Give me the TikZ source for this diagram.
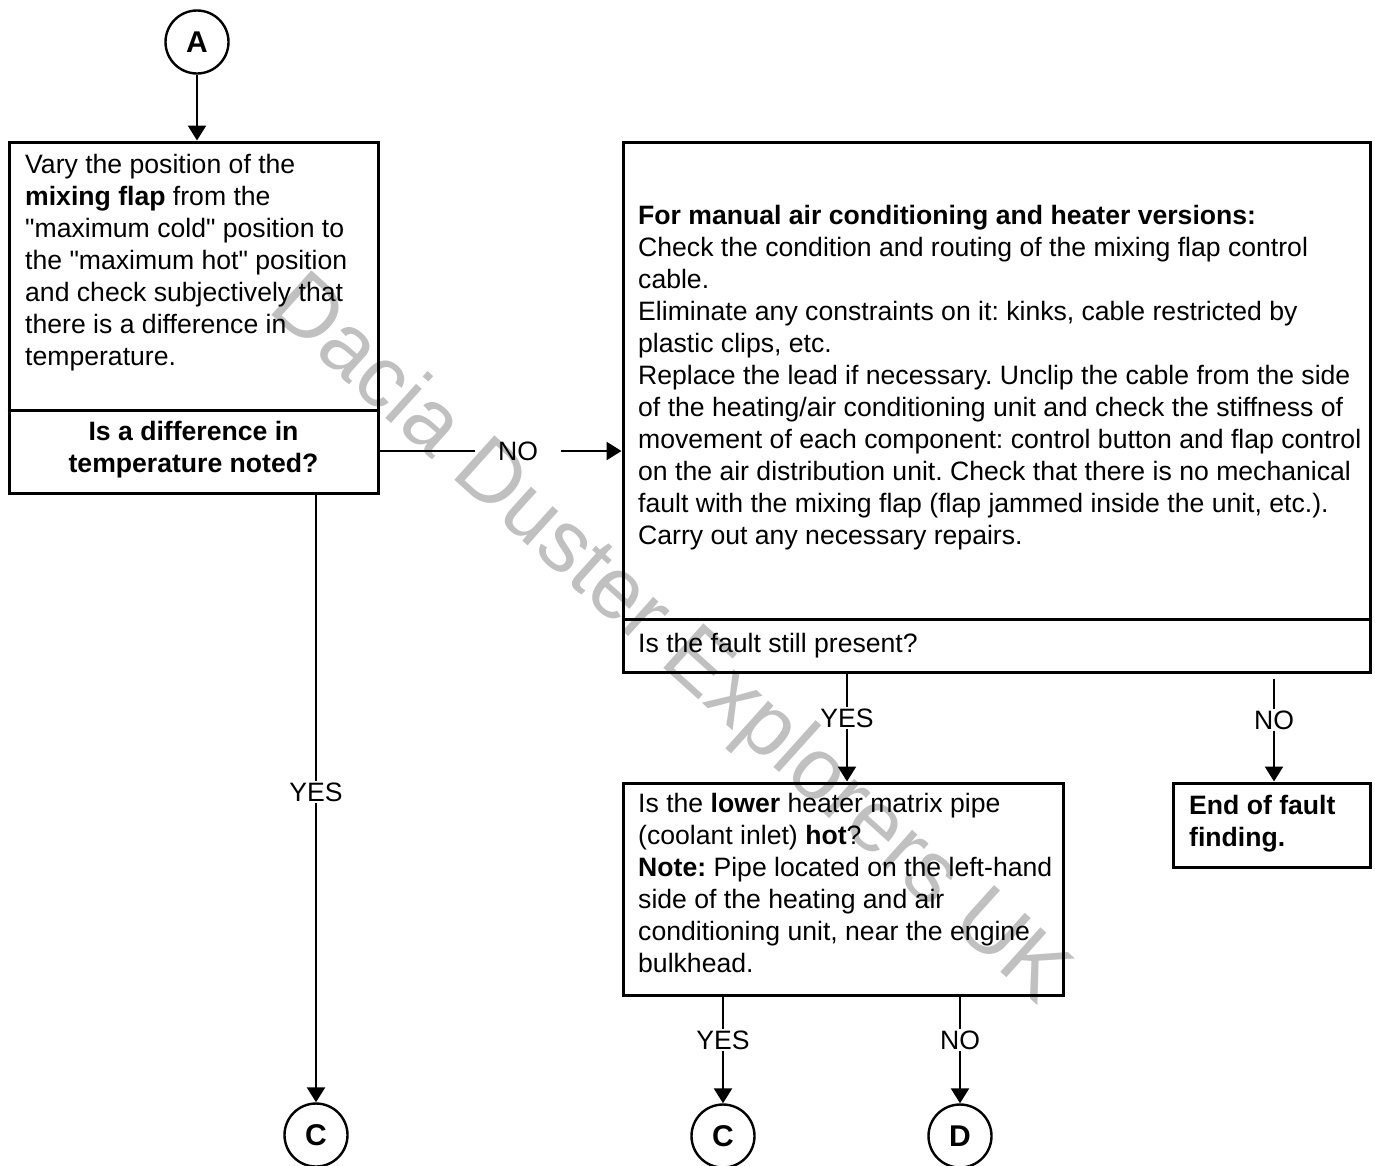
\documentclass[tikz,border=0pt]{standalone}
\usepackage{fontspec}
\setmainfont{Liberation Sans}
\usetikzlibrary{arrows.meta}
\definecolor{wm}{RGB}{192,192,192}
\frenchspacing
\newcommand{\dq}{\textquotedbl}
\begin{document}
\begin{tikzpicture}[x=1pt,y=-1pt,
  txt/.style={font=\fontsize{26.6}{32}\selectfont\frenchspacing, inner sep=0pt, align=left, anchor=north west},
  box/.style={draw, line width=3pt, inner sep=0pt},
  divider/.style={line width=3pt},
  circ/.style={draw, circle, line width=2.4pt, minimum size=63pt, inner sep=0pt, font=\fontsize{30}{32}\selectfont\bfseries},
  lab/.style={font=\fontsize{26.6}{32}\selectfont, inner sep=1pt},
  conn/.style={line width=2.5pt},
  arr/.style={conn, -{Triangle[length=15pt,width=18pt]}},
]
\useasboundingbox (0,0) rectangle (1375,1165);

% watermark (behind everything)
\node[rotate=-42, text=wm, font=\fontsize{87}{87}\selectfont, inner sep=0pt] (wmark) at (668,642) {Dacia Duster Explorers UK};

% boxes
\node[box, minimum width=369pt, minimum height=351pt] (b1) at (193.5,317.5) {};
\node[box, minimum width=747pt, minimum height=530pt] (b2) at (996.5,407) {};
\node[box, minimum width=440pt, minimum height=212pt] (b3) at (843,889) {};
\node[box, minimum width=197pt, minimum height=84pt] (b4) at (1271.5,825) {};

\draw[divider] (b1.west |- 0,410) -- (b1.east |- 0,410);
\draw[divider] (b2.west |- 0,619) -- (b2.east |- 0,619);

% circles
\node[circ] (A) at (197,42) {A};
\node[circ] (C1) at (316,1135) {C};
\node[circ] (C2) at (723,1136) {C};
\node[circ] (D) at (960,1136) {D};

% texts
\node[txt] (t1) at (25,154.5) {Vary the position of the\\
\textbf{mixing flap} from the\\
\dq maximum cold\dq{} position to\\
the \dq maximum hot\dq{} position\\
and check subjectively that\\
there is a difference in\\
temperature.};
\node[txt, anchor=center, align=center, font=\fontsize{26.6}{32}\selectfont\bfseries] (q1) at (193.5,450) {Is a difference in\\ temperature noted?};

\node[txt] (t2) at (638,205.5) {\textbf{For manual air conditioning and heater versions:}\\
Check the condition and routing of the mixing flap control\\
cable.\\
Eliminate any constraints on it: kinks, cable restricted by\\
plastic clips, etc.\\
Replace the lead if necessary. Unclip the cable from the side\\
of the heating/air conditioning unit and check the stiffness of\\
movement of each component: control button and flap control\\
on the air distribution unit. Check that there is no mechanical\\
fault with the mixing flap (flap jammed inside the unit, etc.).\\
Carry out any necessary repairs.};
\node[txt] (q2) at (638,633.5) {Is the fault still present?};

\node[txt] (t3) at (638,793.5) {Is the \textbf{lower} heater matrix pipe\\
(coolant inlet) \textbf{hot}?\\
\textbf{Note:} Pipe located on the left-hand\\
side of the heating and air\\
conditioning unit, near the engine\\
bulkhead.};
\node[txt, font=\fontsize{26.6}{32}\selectfont\bfseries] (t4) at (1189,795.5) {End of fault\\ finding.};

% labels
\node[lab] (yes1) at (316,792) {YES};
\node[lab, inner xsep=23pt] (no1) at (518,451) {NO};
\node[lab] (yes2) at (847,718) {YES};
\node[lab] (no2) at (1274,720) {NO};
\node[lab] (yes3) at (723,1040) {YES};
\node[lab] (no3) at (960,1040) {NO};

% connectors
\draw[arr] (A) -- (A |- b1.north);
\draw[conn] (b1.south -| yes1) -- (yes1);
\draw[arr] (yes1) -- (C1);
\draw[conn] (b1.east |- no1) -- (no1);
\draw[arr] (no1) -- (b2.west |- no1);
\draw[conn] (b2.south -| yes2) -- (yes2);
\draw[arr] (yes2) -- (b3.north -| yes2);
\draw[conn, shorten <=5pt] (b2.south -| no2) -- (no2);
\draw[arr] (no2) -- (b4.north -| no2);
\draw[conn] (b3.south -| yes3) -- (yes3);
\draw[arr] (yes3) -- (C2);
\draw[conn] (b3.south -| no3) -- (no3);
\draw[arr] (no3) -- (D);
\end{tikzpicture}
\end{document}
